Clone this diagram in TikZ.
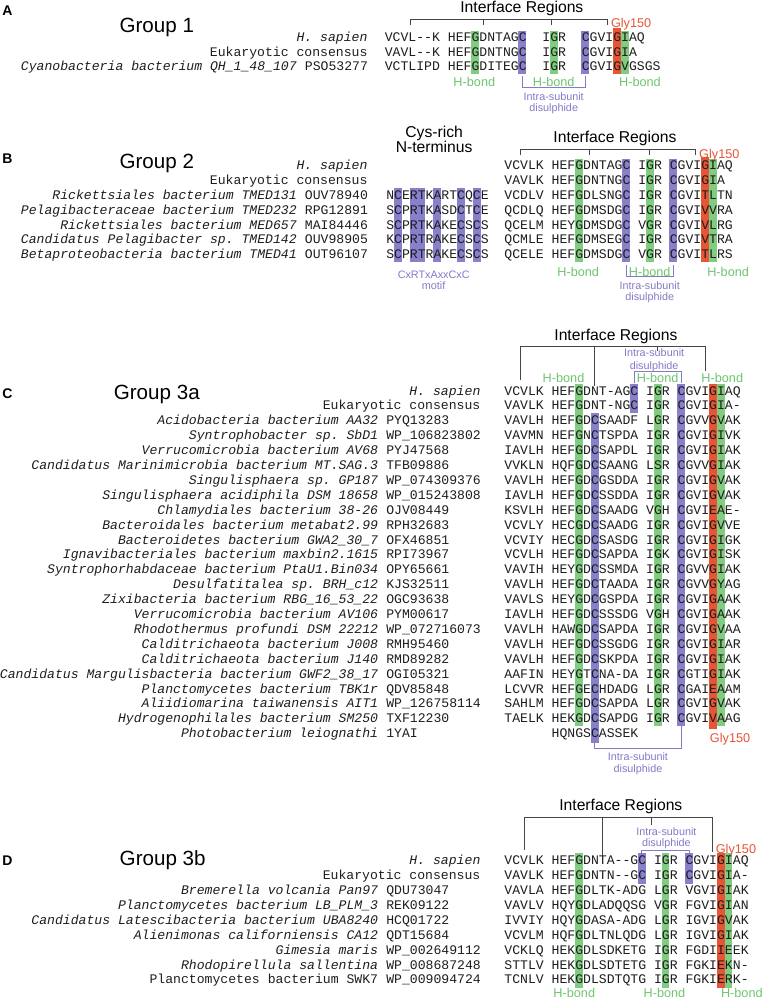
\documentclass[tikz,border=0pt]{standalone}
\usepackage{fontspec}
\setmonofont{Liberation Mono}[WordSpace={1,0,0}]
\newfontfamily\lblfont{Liberation Sans}
\usepackage{xcolor}
\definecolor{hbgreen}{RGB}{128,204,128}
\definecolor{cyspurple}{RGB}{137,128,204}
\definecolor{glyred}{RGB}{232,84,52}
\definecolor{hbtext}{RGB}{112,198,112}
\definecolor{cystext}{RGB}{132,122,200}
\definecolor{brgray}{RGB}{70,70,70}
\definecolor{inkgray}{RGB}{30,30,30}
\newcommand{\seqfont}{\ttfamily\fontsize{13.13}{15}\selectfont\frenchspacing}

\begin{document}
\begin{tikzpicture}[x=0.98pt,y=-1pt,
    seqtxt/.style={anchor=base west, inner sep=0pt, font=\seqfont, text=inkgray},
    spname/.style={anchor=base east, inner sep=0pt, font=\seqfont\itshape, text=inkgray},
    plainname/.style={anchor=base east, inner sep=0pt, font=\seqfont, text=inkgray},
    acctxt/.style={anchor=base west, inner sep=0pt, font=\seqfont, text=inkgray},
    panel/.style={anchor=base, inner sep=0pt, font=\lblfont\bfseries\fontsize{14}{16}\selectfont},
    grouplbl/.style={anchor=base, inner sep=0pt, font=\lblfont\fontsize{20.6}{24}\selectfont},
    ifacelbl/.style={anchor=base, inner sep=0pt, font=\lblfont\fontsize{15.7}{18}\selectfont},
    hblbl/.style={anchor=base, inner sep=0pt, font=\lblfont\fontsize{12.7}{15}\selectfont, text=hbtext},
    sslbl/.style={anchor=base, inner sep=0pt, font=\lblfont\fontsize{10.8}{13}\selectfont, text=cystext},
    glylbl/.style={anchor=base, inner sep=0pt, font=\lblfont\fontsize{12.7}{15}\selectfont, text=glyred},
    bracketline/.style={draw=brgray, line width=1pt},
    ssbracket/.style={draw=cystext, line width=0.9pt}]
  \useasboundingbox (0,0) rectangle (784.69,999);
  \fill[white] (0,0) rectangle (784.69,999);

  % highlighted columns: x0/index/colour/top/bottom
  \foreach \xo/\i/\cl/\ta/\tb in {
      392.5/11/hbgreen/30.5/73.5, 392.5/21/hbgreen/30.5/73.5, 392.5/30/hbgreen/30.5/73.5,
      392.5/17/cyspurple/30.5/73.5, 392.5/25/cyspurple/30.5/73.5,
      392.5/29/glyred/28/73.5,
      514.5/9/hbgreen/158.5/262, 514.5/18/hbgreen/158.5/262, 514.5/26/hbgreen/158.5/262,
      514.5/15/cyspurple/158.5/262, 514.5/21/cyspurple/158.5/262,
      514.5/25/glyred/156.5/262,
      394/1/cyspurple/188/262, 394/3/cyspurple/188/262, 394/4/cyspurple/188/262,
      394/6/cyspurple/188/262, 394/9/cyspurple/188/262, 394/11/cyspurple/188/262,
      514.5/9/hbgreen/383.6/726.3, 514.5/19/hbgreen/383.6/726.3, 514.5/27/hbgreen/383.6/726.3,
      514.5/16/cyspurple/383.6/413.3, 514.5/11/cyspurple/413.3/743,
      514.5/22/cyspurple/383.6/726.3,
      514.5/26/glyred/383.6/729,
      514.5/9/hbgreen/853.3/987.5, 514.5/20/hbgreen/853.3/987.5, 514.5/28/hbgreen/853.3/987.5,
      514.5/17/cyspurple/853.3/883.5, 514.5/23/cyspurple/853.3/883.5,
      514.5/27/glyred/853.3/987.5}{
    \fill[\cl] ({\xo+\i*8.03},\ta) rectangle ({\xo+(\i+1)*8.03},\tb);
  }

  % ---------- Group 1 ----------
  \node[panel] (pA) at (7.5,15) {A};
  \node[grouplbl] (grp1) at (160,32.6) {Group 1};
  \node[ifacelbl] (if1) at (532.5,12.5) {Interface Regions};
  \draw[bracketline] (419,25) -- (419,19.5) -- (620,19.5) -- (620,25);
  \draw[bracketline] (493.5,19.5) -- (493.5,25);
  \draw[bracketline] (562.5,19.5) -- (562.5,25);
  \node[glylbl] (gly1) at (644,27) {Gly150};
  \node[spname] (g1n0) at (375.2,41.7) {H. sapien};
  \node[seqtxt] (g1s0) at (392.5,41.7) {VCVL-{}-K HEFGDNTAGC~~IGR~~CGVIGIAQ};
  \node[plainname] (g1n1) at (375.2,56.2) {Eukaryotic consensus};
  \node[seqtxt] (g1s1) at (392.5,56.2) {VAVL-{}-K HEFGDNTNGC~~IGR~~CGVIGIA};
  \node[spname] (g1n2) at (303,70.7) {Cyanobacteria bacterium QH\_1\_48\_107};
  \node[acctxt] (g1a2) at (311,70.7) {PSO53277};
  \node[seqtxt] (g1s2) at (392.5,70.7) {VCTLIPD HEFGDITEGC~~IGR~~CGVIGVGSGS};
  \node[hblbl] (hb1a) at (484,86.4) {H-bond};
  \node[hblbl] (hb1b) at (565,86.4) {H-bond};
  \node[hblbl] (hb1c) at (653,86.4) {H-bond};
  \draw[ssbracket] (533,76) -- (533,87.3) -- (597.3,87.3) -- (597.3,76);
  \node[sslbl] (ss1a) at (565,100.5) {Intra-subunit};
  \node[sslbl] (ss1b) at (565,111.3) {disulphide};

  % ---------- Group 2 ----------
  \node[panel] (pB) at (7.5,163) {B};
  \node[grouplbl] (grp2) at (160,168.3) {Group 2};
  \node[ifacelbl] (cys2a) at (443,137.5) {Cys-rich};
  \node[ifacelbl] (cys2b) at (443,152.5) {N-terminus};
  \node[ifacelbl] (if2) at (627.5,142.5) {Interface Regions};
  \draw[bracketline] (531,155) -- (531,149.5) -- (710,149.5) -- (710,155);
  \draw[bracketline] (601.5,149.5) -- (601.5,155);
  \draw[bracketline] (662.5,149.5) -- (662.5,155);
  \node[glylbl] (gly2) at (734,158) {Gly150};
  \node[spname] (g2n0) at (375.2,169.7) {H. sapien};
  \node[seqtxt] (g2s0) at (514.5,169.7) {VCVLK HEFGDNTAGC IGR CGVIGIAQ};
  \node[plainname] (g2n1) at (375.2,184.55) {Eukaryotic consensus};
  \node[seqtxt] (g2s1) at (514.5,184.55) {VAVLK HEFGDNTNGC IGR CGVIGIA};
  \foreach \nm/\acc/\nt/\sq [count=\k from 2] in {
      Rickettsiales bacterium TMED131/OUV78940/NCERTKARTCQCE/VCDLV HEFGDLSNGC IGR CGVITLTN,
      Pelagibacteraceae bacterium TMED232/RPG12891/SCPRTKASDCTCE/QCDLQ HEFGDMSDGC IGR CGVIVVRA,
      Rickettsiales bacterium MED657/MAI84446/SCPRTKAKECSCS/QCELM HEYGDMSDGC VGR CGVIVLRG,
      Candidatus Pelagibacter sp. TMED142/OUV98905/KCPRTRAKECSCS/QCMLE HEFGDMSEGC IGR CGVIVTRA,
      Betaproteobacteria bacterium TMED41/OUT96107/SCPRTRAKECSCS/QCELE HEFGDMSDGC VGR CGVITLRS}{
    \node[spname] (g2n\k) at (303,{169.7+14.85*\k}) {\nm};
    \node[acctxt] (g2a\k) at (311,{169.7+14.85*\k}) {\acc};
    \node[seqtxt] (g2t\k) at (394,{169.7+14.85*\k}) {\nt};
    \node[seqtxt] (g2s\k) at (514.5,{169.7+14.85*\k}) {\sq};
  }
  \node[sslbl] (motif2a) at (442.5,278) {CxRTxAxxCxC};
  \node[sslbl] (motif2b) at (442.5,289.7) {motif};
  \node[hblbl] (hb2a) at (590,276.4) {H-bond};
  \node[hblbl] (hb2b) at (663,276.4) {H-bond};
  \node[hblbl] (hb2c) at (743,276.4) {H-bond};
  \draw[ssbracket] (639,265) -- (639,276.7) -- (687.2,276.7) -- (687.2,265);
  \node[sslbl] (ss2a) at (663,289.3) {Intra-subunit};
  \node[sslbl] (ss2b) at (663,300.7) {disulphide};

  % ---------- Group 3a ----------
  \node[panel] (pC) at (7.5,398) {C};
  \node[grouplbl] (grp3a) at (160,399.3) {Group 3a};
  \node[ifacelbl] (if3a) at (628.5,340.8) {Interface Regions};
  \draw[bracketline] (531,380) -- (531,346) -- (720,346) -- (720,371);
  \draw[bracketline] (606.5,346) -- (606.5,386);
  \draw[bracketline] (671,346) -- (671,351);
  \node[sslbl] (ss3aa) at (667.5,356.7) {Intra-subunit};
  \node[sslbl] (ss3ab) at (667.5,369) {disulphide};
  \draw[ssbracket] (647,383) -- (647,371.7) -- (695.2,371.7) -- (695.2,383);
  \node[hblbl] (hb3aa) at (575,382.7) {H-bond};
  \node[hblbl] (hb3ab) at (671,382.7) {H-bond};
  \node[hblbl] (hb3ac) at (737,382.7) {H-bond};
  \node[spname] (g3an0) at (490.4,395) {H. sapien};
  \node[seqtxt] (g3as0) at (514.5,395) {VCVLK HEFGDNT-AGC IGR CGVIGIAQ};
  \node[plainname] (g3an1) at (490.4,409.9) {Eukaryotic consensus};
  \node[seqtxt] (g3as1) at (514.5,409.9) {VAVLK HEFGDNT-NGC IGR CGVIGIA-};
  \foreach \nm/\acc/\sq [count=\k from 2] in {
      Acidobacteria bacterium AA32/PYQ13283/VAVLH HEFGDCSAADF LGR CGVVGVAK,
      Syntrophobacter sp. SbD1/WP\_106823802/VAVMN HEFGNCTSPDA IGR CGVIGIVK,
      Verrucomicrobia bacterium AV68/PYJ47568/IAVLH HEFGDCSAPDL IGR CGVIGIAK,
      Candidatus Marinimicrobia bacterium MT.SAG.3/TFB09886/VVKLN HQFGDCSAANG LSR CGVVGIAK,
      Singulisphaera sp. GP187/WP\_074309376/VAVLH HEFGDCGSDDA IGR CGVIGVAK,
      Singulisphaera acidiphila DSM 18658/WP\_015243808/IAVLH HEFGDCSSDDA IGR CGVIGVAK,
      Chlamydiales bacterium 38-26/OJV08449/KSVLH HEFGDCSAADG VGH CGVIEAE-,
      Bacteroidales bacterium metabat2.99/RPH32683/VCVLY HECGDCSAADG IGR CGVIGVVE,
      Bacteroidetes bacterium GWA2\_30\_7/OFX46851/VCVIY HECGDCSASDG IGR CGVIGIGK,
      Ignavibacteriales bacterium maxbin2.1615/RPI73967/VCVLH HEFGDCSAPDA IGK CGVIGISK,
      Syntrophorhabdaceae bacterium PtaU1.Bin034/OPY65661/VAVIH HEYGDCSSMDA IGR CGVVGIAK,
      Desulfatitalea sp. BRH\_c12/KJS32511/VAVLH HEFGDCTAADA IGR CGVVGYAG,
      Zixibacteria bacterium RBG\_16\_53\_22/OGC93638/VAVLS HEYGDCGSPDA IGR CGVIGAAK,
      Verrucomicrobia bacterium AV106/PYM00617/IAVLH HEFGDCSSSDG VGH CGVIGAAK,
      Rhodothermus profundi DSM 22212/WP\_072716073/VAVLH HAWGDCSAPDA IGR CGVIGVAA,
      Calditrichaeota bacterium J008/RMH95460/VAVLH HEFGDCSSGDG IGR CGVIGIAR,
      Calditrichaeota bacterium J140/RMD89282/VAVLH HEFGDCSKPDA IGR CGVIGIAK,
      Candidatus Margulisbacteria bacterium GWF2\_38\_17/OGI05321/AAFIN HEYGTCNA-DA IGR CGTIGIAK,
      Planctomycetes bacterium TBK1r/QDV85848/LCVVR HEFGECHDADG LGR CGAIEAAM,
      Aliidiomarina taiwanensis AIT1/WP\_126758114/SAHLM HEFGDCSAPDA LGR CGVIGVAK,
      Hydrogenophilales bacterium SM250/TXF12230/TAELK HEKGDCSAPDG IGR CGVIVAAG,
      Photobacterium leiognathi/1YAI/\phantom{VCVLK }HQNGSCASSEK}{
    \node[spname] (g3an\k) at (386,{395+14.9*\k}) {\nm};
    \node[acctxt] (g3aa\k) at (394,{395+14.9*\k}) {\acc};
    \node[seqtxt] (g3as\k) at (514.5,{395+14.9*\k}) {\sq};
  }
  \draw[ssbracket] (606.8,743) -- (606.8,748.5) -- (695.2,748.5) -- (695.2,726.3);
  \node[glylbl] (gly3a) at (745,742.4) {Gly150};
  \node[sslbl] (ss3ac) at (651,760.7) {Intra-subunit};
  \node[sslbl] (ss3ad) at (651,772.3) {disulphide};

  % ---------- Group 3b ----------
  \node[panel] (pD) at (7.5,865) {D};
  \node[grouplbl] (grp3b) at (166,865.6) {Group 3b};
  \node[ifacelbl] (if3b) at (633.5,810.8) {Interface Regions};
  \draw[bracketline] (535,850) -- (535,817.3) -- (727.5,817.3) -- (727.5,851.7);
  \draw[bracketline] (615,817.3) -- (615,856.7);
  \draw[bracketline] (665,817.3) -- (665,825);
  \node[sslbl] (ss3ba) at (680,835.7) {Intra-subunit};
  \node[sslbl] (ss3bb) at (680,846.7) {disulphide};
  \draw[ssbracket] (655,858) -- (655,850) -- (703.2,850) -- (703.2,858);
  \node[glylbl] (gly3b) at (751,853) {Gly150};
  \node[spname] (g3bn0) at (490.4,864.7) {H. sapien};
  \node[seqtxt] (g3bs0) at (514.5,864.7) {VCVLK HEFGDNTA-{}-GC IGR CGVIGIAQ};
  \node[plainname] (g3bn1) at (490.4,879.6) {Eukaryotic consensus};
  \node[seqtxt] (g3bs1) at (514.5,879.6) {VAVLK HEFGDNTN-{}-GC IGR CGVIGIA-};
  \foreach \nm/\acc/\sq [count=\k from 2] in {
      Bremerella volcania Pan97/QDU73047/VAVLA HEFGDLTK-ADG LGR VGVIGIAK,
      Planctomycetes bacterium LB\_PLM\_3/REK09122/VAVLV HQYGDLADQQSG VGR FGVIGIAN,
      Candidatus Latescibacteria bacterium UBA8240/HCQ01722/IVVIY HQYGDASA-ADG LGR IGVIGVAK,
      Alienimonas californiensis CA12/QDT15684/VCVLM HQFGDLTNLQDG LGR IGVIGIAK,
      Gimesia maris/WP\_002649112/VCKLQ HEKGDLSDKETG IGR FGDIIEEK,
      Rhodopirellula sallentina/WP\_008687248/STTLV HEKGDLSDTETG IGR FGKIEKN-,
      {\upshape Planctomycetes bacterium SWK7}/WP\_009094724/TCNLV HEKGDLSDTQTG IGR FGKIERK-}{
    \node[spname] (g3bn\k) at (386,{864.7+14.9*\k}) {\nm};
    \node[acctxt] (g3ba\k) at (394,{864.7+14.9*\k}) {\acc};
    \node[seqtxt] (g3bs\k) at (514.5,{864.7+14.9*\k}) {\sq};
  }
  \node[hblbl] (hb3ba) at (586,997.4) {H-bond};
  \node[hblbl] (hb3bb) at (678,997.4) {H-bond};
  \node[hblbl] (hb3bc) at (757,997.4) {H-bond};
\end{tikzpicture}
\end{document}
